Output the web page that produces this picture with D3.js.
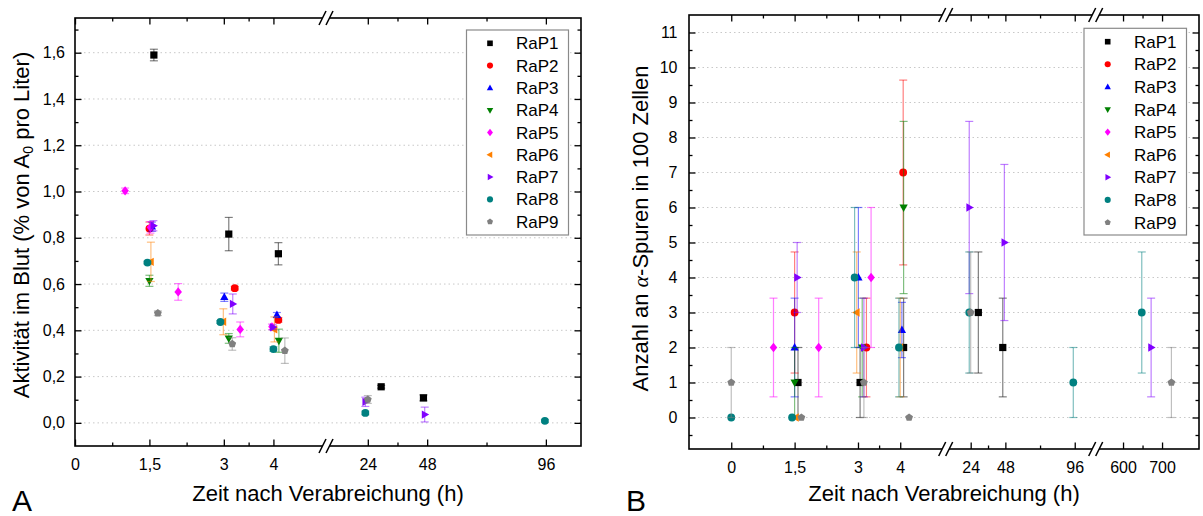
<!DOCTYPE html>
<html><head><meta charset="utf-8">
<script src="https://cdn.jsdelivr.net/npm/d3@7"></script>
<style>
body{margin:0;background:#fff}
svg{display:block}
text{font-family:"Liberation Sans",Arial,sans-serif;fill:#000}
</style>
</head><body>
<svg id="c" width="1203" height="516"></svg>
<script>
// ---------- series ----------
const seriesNames = ["RaP1","RaP2","RaP3","RaP4","RaP5","RaP6","RaP7","RaP8","RaP9"];
const seriesColors = ["#000000","#ff0000","#0000ff","#008000","#ff00ff","#ff8000","#8000ff","#008080","#808080"];
const seriesSymbols = ["square","circle","up","down","diamond","left","right","circle","pentagon"];

// ---------- chart A: activity in blood [time h, value, error] ----------
const actRaP1 = [[1.59,1.59,0.025],[3.1,0.816,0.072],[4.1,0.731,0.048],[29.4,0.156,0.006],[46.5,0.108,0.013]];
const actRaP2 = [[1.5,0.84,0.028],[3.22,0.582,0.008],[4.1,0.445,0.01]];
const actRaP3 = [[1.55,0.848,0.02],[3.01,0.543,0.018],[4.07,0.466,0.011]];
const actRaP4 = [[1.5,0.614,0.024],[3.1,0.365,0.021],[4.11,0.355,0.05]];
const actRaP5 = [[1.01,1.003,0.012],[1.52,0.845,0.025],[2.08,0.566,0.036],[3.33,0.404,0.032],[3.97,0.415,0.012]];
const actRaP6 = [[1.53,0.696,0.085],[2.99,0.437,0.056],[4.02,0.404,0.054]];
const actRaP7 = [[1.58,0.852,0.022],[3.18,0.514,0.043],[3.99,0.413,0.01],[23,0.091,0.02],[47,0.036,0.032]];
const actRaP8 = [[1.46,0.693,0.006],[2.93,0.436,0.006],[4.0,0.319,0.01],[23,0.043,0.008],[95.6,0.009,0.006]];
const actRaP9 = [[1.67,0.474,0.01],[3.17,0.341,0.027],[4.23,0.312,0.055],[24,0.101,0.017]];

// ---------- chart B: alpha tracks per 100 cells [time h, value, error] ----------
const cntRaP1 = [[1.58,1,1],[3.05,1,1],[4.08,2,1.41],[29.3,3,1.73],[46.2,2,1.41]];
const cntRaP2 = [[1.5,3,1.73],[3.2,2,1.41],[4.07,7,2.64]];
const cntRaP3 = [[1.5,2,1.41],[3.01,4,2],[4.04,2.5,0.79]];
const cntRaP4 = [[1.5,1,1],[3.1,2,1.41],[4.08,6,2.46]];
const cntRaP5 = [[1.0,2,1.41],[2.07,2,1.41],[3.31,4,2]];
const cntRaP6 = [[1.53,0,0],[2.97,3,1.73],[4.0,2,1.41]];
const cntRaP7 = [[1.56,4,1],[3.14,2,1.41],[23,6,2.46],[47.3,5,2.23],[672,2,1.41]];
const cntRaP8 = [[0,0,0],[1.44,0,0],[2.92,4,2],[3.97,2,1.41],[23,3,1.73],[95,1,1],[648,3,1.73]];
const cntRaP9 = [[0,1,1],[1.66,0,0],[3.14,1,1],[4.21,0,0],[24,3,1.73],[724,1,1]];

// ---------- ticks ----------
const xTicksA = [0,1.5,3,4,24,48,96];
const xLabelsA = ["0","1,5","3","4","24","48","96"];
const xMinorA = [0.75,2.25,3.5,36,72];
const yTicksA = [0,0.2,0.4,0.6,0.8,1.0,1.2,1.4,1.6];
const yMinorA = [0.1,0.3,0.5,0.7,0.9,1.1,1.3,1.5,1.7];

const xTicksB = [0,1.5,3,4,24,48,96,600,700];
const xLabelsB = ["0","1,5","3","4","24","48","96","600","700"];
const xMinorB = [0.75,2.25,3.5,36,72,650];
const yTicksB = [0,1,2,3,4,5,6,7,8,9,10,11];
const yMinorB = [-0.5,0.5,1.5,2.5,3.5,4.5,5.5,6.5,7.5,8.5,9.5,10.5];

const svg = d3.select("#c");
const FONT = '"Liberation Sans",Arial,sans-serif';

function symbolPath(type, k) {
  const s = 3.6 * k;
  switch (type) {
    case "square": return `M${-s},${-s}h${2*s}v${2*s}h${-2*s}Z`;
    case "circle": { const r = 3.9*k; return `M${-r},0a${r},${r} 0 1,0 ${2*r},0a${r},${r} 0 1,0 ${-2*r},0Z`; }
    case "up": return `M0,${-s*1.25}L${s*1.15},${s*0.8}L${-s*1.15},${s*0.8}Z`;
    case "down": return `M0,${s*1.25}L${s*1.15},${-s*0.8}L${-s*1.15},${-s*0.8}Z`;
    case "diamond": return `M0,${-s*1.3}L${s*1.05},0L0,${s*1.3}L${-s*1.05},0Z`;
    case "left": return `M${-s*1.25},0L${s*0.8},${-s*1.15}L${s*0.8},${s*1.15}Z`;
    case "right": return `M${s*1.25},0L${-s*0.8},${-s*1.15}L${-s*0.8},${s*1.15}Z`;
    case "pentagon": {
      const r = 4.1*k; let p = "";
      for (let i = 0; i < 5; i++) { const a = -Math.PI/2 + i*2*Math.PI/5; p += (i?"L":"M") + (r*Math.cos(a)).toFixed(2) + "," + (r*Math.sin(a)).toFixed(2); }
      return p + "Z";
    }
  }
}

function drawBreak(g, c, py) {
  g.append("path").attr("d", `M${c-8},${py+7}L${c-1},${py-7}L${c+6},${py-7}L${c-1},${py+7}Z`).attr("fill","#fff");
  g.append("line").attr("x1",c-8).attr("y1",py+7).attr("x2",c-1).attr("y2",py-7).attr("stroke","#000").attr("stroke-width",1.5);
  g.append("line").attr("x1",c-1).attr("y1",py+7).attr("x2",c+6).attr("y2",py-7).attr("stroke","#000").attr("stroke-width",1.5);
}

function makeChart(cfg) {
  const g = svg.append("g");
  const {x, y, left, right, top, bottom} = cfg;

  // gridlines
  g.append("g").selectAll("line").data(cfg.yTicks).join("line")
    .attr("x1", left).attr("x2", right).attr("y1", d => y(d)).attr("y2", d => y(d))
    .attr("stroke", "#c8c8c8").attr("stroke-width", 1).attr("stroke-dasharray", "1.5,3");

  // data
  cfg.data.forEach((arr, i) => {
    const col = seriesColors[i];
    const eb = g.append("g").attr("stroke", col).attr("stroke-opacity", 0.5).attr("stroke-width", 1.2).attr("fill","none");
    arr.filter(d => d[2] > 0).forEach(d => {
      const px = x(d[0]);
      eb.append("line").attr("x1", px).attr("x2", px).attr("y1", y(d[1]-d[2])).attr("y2", y(d[1]+d[2]));
      [d[1]-d[2], d[1]+d[2]].forEach(v => eb.append("line").attr("x1", px-4).attr("x2", px+4).attr("y1", y(v)).attr("y2", y(v)));
    });
    g.append("g").selectAll("path").data(arr).join("path")
      .attr("transform", d => `translate(${x(d[0])},${y(d[1])})`)
      .attr("d", symbolPath(seriesSymbols[i], 1))
      .attr("fill", col);
  });

  // axes
  const styleAx = s => { s.select(".domain").remove(); s.attr("font-size", 16).attr("font-family", FONT); s.selectAll("line").attr("stroke-width", 1.3); };
  g.append("g").attr("transform", `translate(0,${bottom})`)
    .call(d3.axisBottom(x).tickValues(cfg.xTicks).tickFormat((d, i) => cfg.xLabels[i]).tickSizeInner(-6.5).tickSizeOuter(0).tickPadding(12.5)).call(styleAx);
  g.append("g").attr("transform", `translate(0,${bottom})`)
    .call(d3.axisBottom(x).tickValues(cfg.xMinor).tickFormat("").tickSizeInner(-3.5).tickSizeOuter(0)).call(styleAx);
  g.append("g").attr("transform", `translate(0,${top})`)
    .call(d3.axisTop(x).tickValues(cfg.xTicks).tickFormat("").tickSizeInner(-6.5).tickSizeOuter(0)).call(styleAx);
  g.append("g").attr("transform", `translate(0,${top})`)
    .call(d3.axisTop(x).tickValues(cfg.xMinor).tickFormat("").tickSizeInner(-3.5).tickSizeOuter(0)).call(styleAx);
  g.append("g").attr("transform", `translate(${left},0)`)
    .call(d3.axisLeft(y).tickValues(cfg.yTicks).tickFormat(cfg.yFormat).tickSizeInner(-6.5).tickSizeOuter(0).tickPadding(cfg.yPad)).call(styleAx);
  g.append("g").attr("transform", `translate(${left},0)`)
    .call(d3.axisLeft(y).tickValues(cfg.yMinor).tickFormat("").tickSizeInner(-3.5).tickSizeOuter(0)).call(styleAx);
  g.append("g").attr("transform", `translate(${right},0)`)
    .call(d3.axisRight(y).tickValues(cfg.yTicks).tickFormat("").tickSizeInner(-6.5).tickSizeOuter(0)).call(styleAx);
  g.append("g").attr("transform", `translate(${right},0)`)
    .call(d3.axisRight(y).tickValues(cfg.yMinor).tickFormat("").tickSizeInner(-3.5).tickSizeOuter(0)).call(styleAx);

  // frame
  g.append("rect").attr("x", left).attr("y", top).attr("width", right-left).attr("height", bottom-top)
    .attr("fill", "none").attr("stroke", "#000").attr("stroke-width", 1.6);
  cfg.breaks.forEach(b => { drawBreak(g, b, top); drawBreak(g, b, bottom); });

  // legend
  const L = cfg.legend;
  const lg = g.append("g");
  lg.append("rect").attr("x", L.x0).attr("y", L.y0).attr("width", L.x1-L.x0).attr("height", L.y1-L.y0)
    .attr("fill", "#fff").attr("stroke", "#8a8a8a").attr("stroke-width", 1.2);
  seriesNames.forEach((n, i) => {
    const yy = L.first + i*L.step;
    lg.append("path").attr("transform", `translate(${L.mx},${yy})`).attr("d", symbolPath(seriesSymbols[i], 0.78)).attr("fill", seriesColors[i]);
    lg.append("text").attr("x", L.tx).attr("y", yy + 6).attr("font-size", 17).text(n);
  });
  return g;
}

// ---------- Chart A ----------
const xA = d3.scaleLinear().domain([0, 5.08, 7.5, 110.2]).range([75, 327, 327, 581]);
const yA = d3.scaleLinear().domain([-0.1, 1.75]).range([446, 18]);
makeChart({
  x: xA, y: yA, left: 75, right: 581, top: 18, bottom: 446,
  data: [actRaP1,actRaP2,actRaP3,actRaP4,actRaP5,actRaP6,actRaP7,actRaP8,actRaP9],
  xTicks: xTicksA, xLabels: xLabelsA, xMinor: xMinorA,
  yTicks: yTicksA, yMinor: yMinorA, yFormat: d => d3.format(".1f")(d).replace(".", ","), yPad: 10,
  breaks: [327],
  legend: {x0: 466.5, x1: 568.5, y0: 30, y1: 235, first: 43.3, step: 22.3, mx: 490, tx: 516}
});

// ---------- Chart B ----------
const xB = d3.scaleLinear().domain([-1, 5.1, 7.4, 111.2, 532.5, 794.7]).range([689, 946.7, 946.7, 1096.7, 1096.7, 1199]);
const yB = d3.scaleLinear().domain([-0.9, 11.5]).range([449, 15]);
makeChart({
  x: xB, y: yB, left: 689, right: 1199, top: 15, bottom: 449,
  data: [cntRaP1,cntRaP2,cntRaP3,cntRaP4,cntRaP5,cntRaP6,cntRaP7,cntRaP8,cntRaP9],
  xTicks: xTicksB, xLabels: xLabelsB, xMinor: xMinorB,
  yTicks: yTicksB, yMinor: yMinorB, yFormat: d => String(d), yPad: 11.5,
  breaks: [946.7, 1096.7],
  legend: {x0: 1084, x1: 1186.5, y0: 28.3, y1: 235, first: 41.7, step: 22.6, mx: 1107.7, tx: 1134}
});

// ---------- titles ----------
svg.append("text").attr("x", 328).attr("y", 501).attr("text-anchor", "middle").attr("font-size", 22).text("Zeit nach Verabreichung (h)");
svg.append("text").attr("x", 944).attr("y", 501).attr("text-anchor", "middle").attr("font-size", 22).text("Zeit nach Verabreichung (h)");
svg.append("text").attr("x", 12).attr("y", 511).attr("font-size", 30).text("A");
svg.append("text").attr("x", 626).attr("y", 511).attr("font-size", 30).text("B");

const ta = svg.append("text").attr("transform", "translate(29,225) rotate(-90)").attr("text-anchor", "middle").attr("font-size", 22);
ta.append("tspan").text("Aktivität im Blut (% von A");
ta.append("tspan").attr("font-size", 14).attr("dy", 4).text("0");
ta.append("tspan").attr("dy", -4).text(" pro Liter)");

const tb = svg.append("text").attr("transform", "translate(648,228.5) rotate(-90)").attr("text-anchor", "middle").attr("font-size", 22);
tb.append("tspan").text("Anzahl an ");
tb.append("tspan").attr("font-family", '"Liberation Serif","Times New Roman",serif').attr("font-style", "italic").text("α");
tb.append("tspan").text("-Spuren in 100 Zellen");
</script>
</body></html>
